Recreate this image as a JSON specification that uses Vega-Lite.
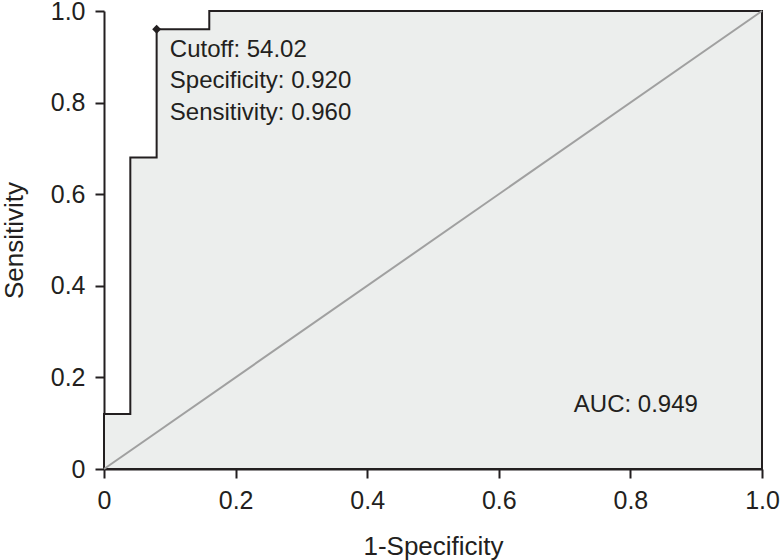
{
  "$schema": "https://vega.github.io/schema/vega-lite/v6.json",
  "width": 658,
  "height": 458,
  "autosize": "none",
  "padding": {"left": 104, "top": 11, "right": 20, "bottom": 91},
  "background": "white",
  "config": {
    "view": {"stroke": null},
    "font": "Liberation Sans",
    "axis": {
      "grid": false,
      "domainColor": "#231f20",
      "domainWidth": 2,
      "tickColor": "#231f20",
      "tickWidth": 2,
      "tickSize": 9,
      "labelFont": "Liberation Sans",
      "labelFontSize": 25,
      "labelColor": "#231f20",
      "titleFont": "Liberation Sans",
      "titleFontSize": 26,
      "titleFontWeight": "normal",
      "titleColor": "#231f20"
    }
  },
  "datasets": {
    "roc": [
      {"fpr": 0, "tpr": 0.12},
      {"fpr": 0.04, "tpr": 0.68},
      {"fpr": 0.08, "tpr": 0.96},
      {"fpr": 0.16, "tpr": 1.0},
      {"fpr": 1.0, "tpr": 1.0}
    ],
    "diag": [
      {"fpr": 0, "tpr": 0},
      {"fpr": 1, "tpr": 1}
    ],
    "cut": [
      {"fpr": 0.08, "tpr": 0.96}
    ],
    "notes": [
      {"fpr": 0.1, "tpr": 0.915, "label": "Cutoff: 54.02"},
      {"fpr": 0.1, "tpr": 0.847, "label": "Specificity: 0.920"},
      {"fpr": 0.1, "tpr": 0.778, "label": "Sensitivity: 0.960"},
      {"fpr": 0.714, "tpr": 0.14, "label": "AUC: 0.949"}
    ]
  },
  "encoding": {
    "x": {
      "field": "fpr",
      "type": "quantitative",
      "scale": {"domain": [0, 1], "nice": false, "zero": false},
      "axis": {
        "title": "1-Specificity",
        "values": [0, 0.2, 0.4, 0.6, 0.8, 1.0],
        "labelExpr": "datum.value == 0 ? '0' : format(datum.value, '.1f')",
        "labelPadding": 10,
        "titlePadding": 20,
        "labelFlush": false,
        "labelOverlap": false
      }
    },
    "y": {
      "field": "tpr",
      "type": "quantitative",
      "scale": {"domain": [0, 1], "nice": false, "zero": false},
      "axis": {
        "title": "Sensitivity",
        "values": [0, 0.2, 0.4, 0.6, 0.8, 1.0],
        "labelExpr": "datum.value == 0 ? '0' : format(datum.value, '.1f')",
        "labelPadding": 10,
        "titlePadding": 23,
        "labelFlush": false,
        "labelOverlap": false
      }
    }
  },
  "layer": [
    {
      "data": {"name": "roc"},
      "mark": {"type": "area", "interpolate": "step-after", "fill": "#eceeed", "stroke": "#231f20", "strokeWidth": 2, "opacity": 1}
    },
    {
      "data": {"name": "diag"},
      "mark": {"type": "line", "color": "#a0a0a0", "strokeWidth": 2}
    },
    {
      "data": {"name": "cut"},
      "mark": {"type": "point", "shape": "diamond", "filled": true, "color": "#231f20", "size": 80, "opacity": 1}
    },
    {
      "data": {"name": "notes"},
      "mark": {"type": "text", "align": "left", "baseline": "middle", "fontSize": 24, "color": "#231f20", "font": "Liberation Sans"},
      "encoding": {"text": {"field": "label"}}
    }
  ]
}
